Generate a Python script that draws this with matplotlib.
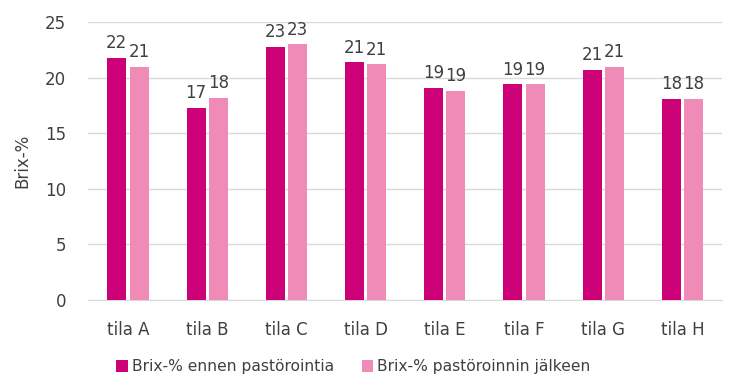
import matplotlib
matplotlib.use("Agg")
import matplotlib.pyplot as plt
import numpy as np

categories = ["tila A", "tila B", "tila C", "tila D", "tila E", "tila F", "tila G", "tila H"]
before = [21.8, 17.3, 22.8, 21.4, 19.1, 19.4, 20.7, 18.1]
after = [21.0, 18.2, 23.0, 21.2, 18.8, 19.4, 21.0, 18.1]
series_names = ["Brix-% ennen pastörointia", "Brix-% pastöroinnin jälkeen"]
yticks = [0, 5, 10, 15, 20, 25]

plt.rcParams['font.family'] = ['DejaVu Sans']
c1 = "#CC0077"
c2 = "#F08BB8"
tc = "#404040"

fig = plt.figure(figsize=(7.36, 3.87), dpi=100)
ax = fig.add_axes([0.12, 0.225, 0.861, 0.718])
x = np.arange(len(categories))
w = 0.24
off = 0.14
b1 = ax.bar(x - off, before, w, color=c1, label=series_names[0], zorder=3)
b2 = ax.bar(x + off, after, w, color=c2, label=series_names[1], zorder=3)
for bars, vals in ((b1, before), (b2, after)):
    for r, v in zip(bars, vals):
        ax.text(r.get_x() + r.get_width() / 2, v + 0.5, f"{v:.0f}", ha="center", va="bottom",
                fontsize=12, color=tc)

ax.set_xlim(-0.5, len(categories) - 0.5)
ax.set_ylim(0, 25)
ax.set_yticks(yticks)
ax.set_xticks(x)
ax.set_xticklabels(categories)
ax.tick_params(axis='both', length=0, labelsize=12, colors=tc)
ax.tick_params(axis='x', pad=15)
ax.tick_params(axis='y', pad=16)
ax.grid(axis='y', color="#D9D9D9", linewidth=1, zorder=0)
for s in ["top", "right", "left"]:
    ax.spines[s].set_visible(False)
ax.spines["bottom"].set_color("#D9D9D9")
ax.set_ylabel("Brix-%", fontsize=12, color=tc, labelpad=10)

leg = fig.legend(handles=[b1, b2], labels=series_names, loc="center", bbox_to_anchor=(0.48, 0.052),
                 ncol=2, frameon=False, fontsize=11.2, handlelength=0.75, handleheight=0.75,
                 handletextpad=0.25, columnspacing=1.8)
for t in leg.get_texts():
    t.set_color(tc)

fig.savefig("out.png", dpi=100)
